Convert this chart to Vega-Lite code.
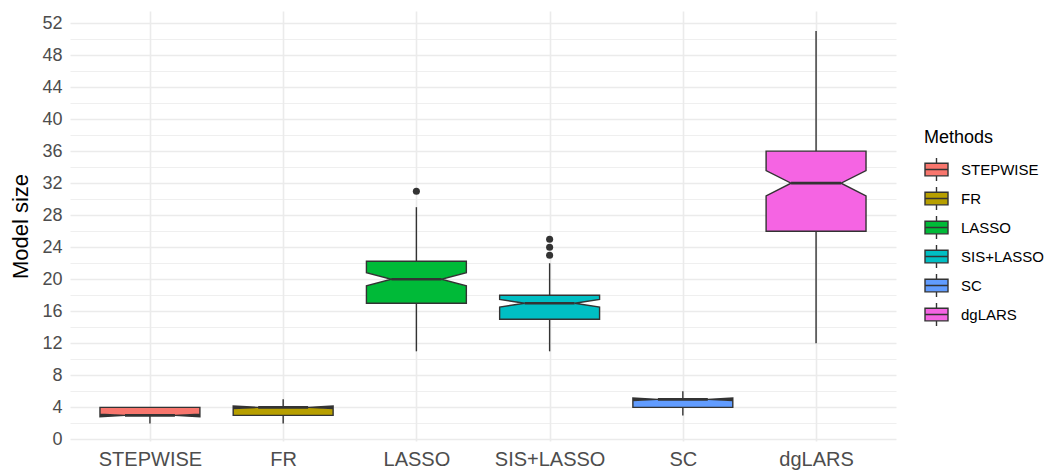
{
  "$schema": "https://vega.github.io/schema/vega-lite/v6.json",
  "width": 826,
  "height": 430,
  "autosize": {"type": "none"},
  "padding": {"left": 70, "top": 11, "right": 149, "bottom": 29},
  "background": "white",
  "config": {
    "view": {"stroke": null},
    "font": "Liberation Sans",
    "axis": {"domain": false, "ticks": false, "labelFont": "Liberation Sans", "labelColor": "#4D4D4D", "gridColor": "#EBEBEB", "labelOverlap": false, "labelFlush": false}
  },
  "datasets": {
    "stats": [
      {"method": "STEPWISE", "lower": 2, "q1": 3, "median": 3, "q3": 4, "upper": 4, "notchLo": 2.84, "notchHi": 3.16},
      {"method": "FR", "lower": 2, "q1": 3, "median": 4, "q3": 4, "upper": 5, "notchLo": 3.84, "notchHi": 4.16},
      {"method": "LASSO", "lower": 11, "q1": 17, "median": 20, "q3": 22.25, "upper": 29, "notchLo": 19.17, "notchHi": 20.83},
      {"method": "SIS+LASSO", "lower": 11, "q1": 15, "median": 17, "q3": 18, "upper": 22, "notchLo": 16.53, "notchHi": 17.47},
      {"method": "SC", "lower": 3, "q1": 4, "median": 5, "q3": 5, "upper": 6, "notchLo": 4.84, "notchHi": 5.16},
      {"method": "dgLARS", "lower": 12, "q1": 26, "median": 32, "q3": 36, "upper": 51, "notchLo": 30.42, "notchHi": 33.58}
    ],
    "outliers": [
      {"method": "LASSO", "value": 31},
      {"method": "SIS+LASSO", "value": 23},
      {"method": "SIS+LASSO", "value": 24},
      {"method": "SIS+LASSO", "value": 25}
    ]
  },
  "layer": [
    {
      "data": {"name": "stats"},
      "transform": [
        {"calculate": "indexof(['STEPWISE','FR','LASSO','SIS+LASSO','SC','dgLARS'], datum.method)", "as": "xi"}
      ],
      "mark": {"type": "rule", "color": "#333333", "strokeWidth": 1.4},
      "encoding": {
        "x": {
          "field": "xi", "type": "quantitative",
          "scale": {"domain": [-0.6, 5.6], "nice": false, "zero": false},
          "axis": {"title": null, "values": [0, 1, 2, 3, 4, 5], "grid": true, "gridWidth": 1.6, "labelPadding": 8, "labelFontSize": 20,
            "labelExpr": "['STEPWISE','FR','LASSO','SIS+LASSO','SC','dgLARS'][datum.value]"}
        },
        "y": {
          "field": "lower", "type": "quantitative",
          "scale": {"domain": [-0.2, 53.5], "nice": false, "zero": false},
          "axis": {"title": "Model size", "titleFontSize": 22, "titleFontWeight": "normal", "titleColor": "#000000", "titleFont": "Liberation Sans", "titlePadding": 9,
            "values": [0,2,4,6,8,10,12,14,16,18,20,22,24,26,28,30,32,34,36,38,40,42,44,46,48,50,52],
            "labelExpr": "datum.value % 4 === 0 ? datum.label : ''",
            "labelPadding": 8, "labelFontSize": 18,
            "grid": true,
            "gridWidth": {"condition": {"test": "datum.value % 4 === 0", "value": 1.6}, "value": 0.8}}
        },
        "y2": {"field": "q1"}
      }
    },
    {
      "data": {"name": "stats"},
      "transform": [
        {"calculate": "indexof(['STEPWISE','FR','LASSO','SIS+LASSO','SC','dgLARS'], datum.method)", "as": "xi"}
      ],
      "mark": {"type": "rule", "color": "#333333", "strokeWidth": 1.4},
      "encoding": {
        "x": {"field": "xi", "type": "quantitative",
          "axis": {"title": null, "values": [0, 1, 2, 3, 4, 5], "grid": true, "gridWidth": 1.6, "labelPadding": 8, "labelFontSize": 20,
            "labelExpr": "['STEPWISE','FR','LASSO','SIS+LASSO','SC','dgLARS'][datum.value]"}},
        "y": {"field": "q3", "type": "quantitative",
          "axis": {"title": "Model size", "titleFontSize": 22, "titleFontWeight": "normal", "titleColor": "#000000", "titleFont": "Liberation Sans", "titlePadding": 9,
            "values": [0,2,4,6,8,10,12,14,16,18,20,22,24,26,28,30,32,34,36,38,40,42,44,46,48,50,52],
            "labelExpr": "datum.value % 4 === 0 ? datum.label : ''",
            "labelPadding": 8, "labelFontSize": 18,
            "grid": true,
            "gridWidth": {"condition": {"test": "datum.value % 4 === 0", "value": 1.6}, "value": 0.8}}},
        "y2": {"field": "upper"}
      }
    },
    {
      "data": {"name": "stats"},
      "transform": [
        {"calculate": "indexof(['STEPWISE','FR','LASSO','SIS+LASSO','SC','dgLARS'], datum.method)", "as": "xi"},
        {"fold": ["q3", "notchHi", "median", "notchLo", "q1"], "as": ["key", "value"]},
        {"calculate": "indexof(['q3','notchHi','median','notchLo','q1'], datum.key)", "as": "k"},
        {"calculate": "datum.xi - (datum.key === 'median' ? 0.1875 : 0.375)", "as": "xl"},
        {"calculate": "datum.xi + (datum.key === 'median' ? 0.1875 : 0.375)", "as": "xr"},
        {"fold": ["xl", "xr"], "as": ["side", "xpos"]},
        {"calculate": "datum.side === 'xl' ? datum.k : 9 - datum.k", "as": "ord"}
      ],
      "mark": {"type": "line", "filled": true, "interpolate": "linear-closed", "stroke": "#333333", "strokeWidth": 1.4, "opacity": 1, "fillOpacity": 1},
      "encoding": {
        "x": {"field": "xpos", "type": "quantitative",
          "axis": {"title": null, "values": [0, 1, 2, 3, 4, 5], "grid": true, "gridWidth": 1.6, "labelPadding": 8, "labelFontSize": 20,
            "labelExpr": "['STEPWISE','FR','LASSO','SIS+LASSO','SC','dgLARS'][datum.value]"}},
        "y": {"field": "value", "type": "quantitative",
          "axis": {"title": "Model size", "titleFontSize": 22, "titleFontWeight": "normal", "titleColor": "#000000", "titleFont": "Liberation Sans", "titlePadding": 9,
            "values": [0,2,4,6,8,10,12,14,16,18,20,22,24,26,28,30,32,34,36,38,40,42,44,46,48,50,52],
            "labelExpr": "datum.value % 4 === 0 ? datum.label : ''",
            "labelPadding": 8, "labelFontSize": 18,
            "grid": true,
            "gridWidth": {"condition": {"test": "datum.value % 4 === 0", "value": 1.6}, "value": 0.8}}},
        "order": {"field": "ord", "type": "quantitative"},
        "fill": {
          "field": "method", "type": "nominal", "title": "Methods",
          "scale": {"domain": ["STEPWISE", "FR", "LASSO", "SIS+LASSO", "SC", "dgLARS"],
                    "range": ["#F8766D", "#B79F00", "#00BA38", "#00BFC4", "#619CFF", "#F564E3"]},
          "legend": {
            "orient": "none", "legendX": 854, "legendY": 118, "padding": 0,
            "titleFontSize": 18, "titleFontWeight": "normal", "titleColor": "#000000", "titleFont": "Liberation Sans", "titlePadding": 10,
            "labelFontSize": 15, "labelColor": "#000000", "labelFont": "Liberation Sans", "labelOffset": 12,
            "symbolType": "M-1,-0.55L1,-0.55L1,0.55L-1,0.55Z M-1,0L1,0 M0,-0.55L0,-1 M0,0.55L0,1",
            "symbolSize": 529, "symbolStrokeColor": "#333333", "symbolStrokeWidth": 1.4, "symbolOpacity": 1,
            "rowPadding": 0
          }
        }
      }
    },
    {
      "data": {"name": "stats"},
      "transform": [
        {"calculate": "indexof(['STEPWISE','FR','LASSO','SIS+LASSO','SC','dgLARS'], datum.method)", "as": "xi"},
        {"calculate": "datum.xi - 0.1875", "as": "ml"},
        {"calculate": "datum.xi + 0.1875", "as": "mr"}
      ],
      "mark": {"type": "rule", "color": "#333333", "strokeWidth": 2.7},
      "encoding": {
        "x": {"field": "ml", "type": "quantitative",
          "axis": {"title": null, "values": [0, 1, 2, 3, 4, 5], "grid": true, "gridWidth": 1.6, "labelPadding": 8, "labelFontSize": 20,
            "labelExpr": "['STEPWISE','FR','LASSO','SIS+LASSO','SC','dgLARS'][datum.value]"}},
        "x2": {"field": "mr"},
        "y": {"field": "median", "type": "quantitative",
          "axis": {"title": "Model size", "titleFontSize": 22, "titleFontWeight": "normal", "titleColor": "#000000", "titleFont": "Liberation Sans", "titlePadding": 9,
            "values": [0,2,4,6,8,10,12,14,16,18,20,22,24,26,28,30,32,34,36,38,40,42,44,46,48,50,52],
            "labelExpr": "datum.value % 4 === 0 ? datum.label : ''",
            "labelPadding": 8, "labelFontSize": 18,
            "grid": true,
            "gridWidth": {"condition": {"test": "datum.value % 4 === 0", "value": 1.6}, "value": 0.8}}}
      }
    },
    {
      "data": {"name": "outliers"},
      "transform": [
        {"calculate": "indexof(['STEPWISE','FR','LASSO','SIS+LASSO','SC','dgLARS'], datum.method)", "as": "xi"}
      ],
      "mark": {"type": "circle", "color": "#333333", "size": 50, "opacity": 1},
      "encoding": {
        "x": {"field": "xi", "type": "quantitative",
          "axis": {"title": null, "values": [0, 1, 2, 3, 4, 5], "grid": true, "gridWidth": 1.6, "labelPadding": 8, "labelFontSize": 20,
            "labelExpr": "['STEPWISE','FR','LASSO','SIS+LASSO','SC','dgLARS'][datum.value]"}},
        "y": {"field": "value", "type": "quantitative",
          "axis": {"title": "Model size", "titleFontSize": 22, "titleFontWeight": "normal", "titleColor": "#000000", "titleFont": "Liberation Sans", "titlePadding": 9,
            "values": [0,2,4,6,8,10,12,14,16,18,20,22,24,26,28,30,32,34,36,38,40,42,44,46,48,50,52],
            "labelExpr": "datum.value % 4 === 0 ? datum.label : ''",
            "labelPadding": 8, "labelFontSize": 18,
            "grid": true,
            "gridWidth": {"condition": {"test": "datum.value % 4 === 0", "value": 1.6}, "value": 0.8}}}
      }
    }
  ]
}
